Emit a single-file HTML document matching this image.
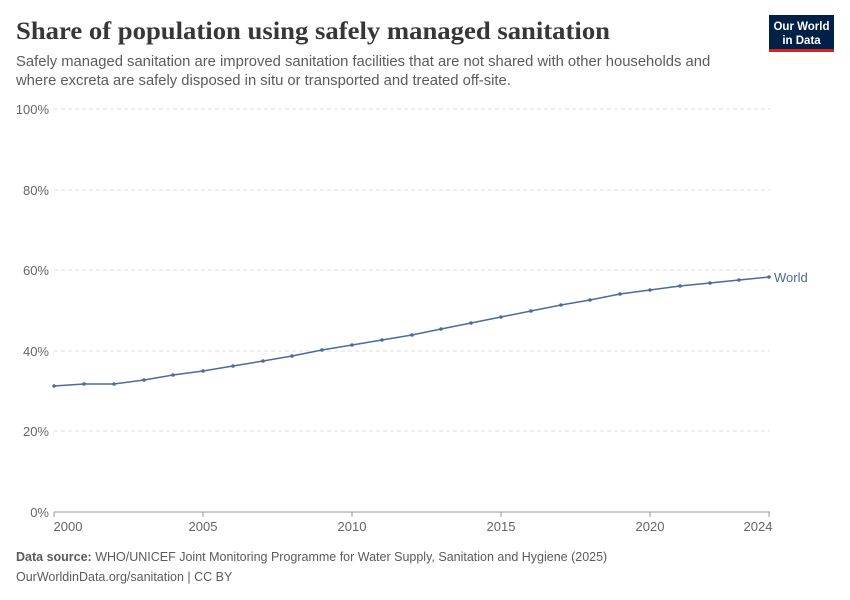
<!DOCTYPE html>
<html><head><meta charset="utf-8"><style>
body{margin:0;background:#fff;font-family:"Liberation Sans",sans-serif;}
</style></head><body>
<svg width="850" height="600" xmlns="http://www.w3.org/2000/svg" style="display:block">
<text x="16" y="39" font-family="Liberation Serif,serif" font-size="25" font-weight="bold" fill="#373737" textLength="594" lengthAdjust="spacingAndGlyphs">Share of population using safely managed sanitation</text>
<text x="16" y="66" font-size="14.8" fill="#5b5b5b">Safely managed sanitation are improved sanitation facilities that are not shared with other households and</text>
<text x="16" y="85" font-size="14.8" fill="#5b5b5b">where excreta are safely disposed in situ or transported and treated off-site.</text>
<rect x="769" y="15" width="65" height="36" fill="#002147"/>
<rect x="769" y="49" width="65" height="3" fill="#ce261e"/>
<text x="801.5" y="30" font-size="11.5" fill="#fff" text-anchor="middle" font-weight="bold">Our World</text>
<text x="801.5" y="44" font-size="11.5" fill="#fff" text-anchor="middle" font-weight="bold">in Data</text>
<g stroke="#ddd" stroke-dasharray="4,3">
<line x1="54" x2="770" y1="109" y2="109"/><line x1="54" x2="770" y1="190" y2="190"/>
<line x1="54" x2="770" y1="270" y2="270"/><line x1="54" x2="770" y1="351" y2="351"/>
<line x1="54" x2="770" y1="431" y2="431"/>
</g>
<line x1="54" x2="770" y1="512" y2="512" stroke="#999"/>
<g font-size="13" fill="#666" text-anchor="end">
<text x="49" y="114">100%</text><text x="49" y="195">80%</text><text x="49" y="275">60%</text>
<text x="49" y="356">40%</text><text x="49" y="436">20%</text><text x="49" y="517">0%</text>
</g>
<g stroke="#999"><line x1="54" x2="54" y1="512" y2="517"/><line x1="203" x2="203" y1="512" y2="517"/><line x1="352" x2="352" y1="512" y2="517"/><line x1="501" x2="501" y1="512" y2="517"/><line x1="650" x2="650" y1="512" y2="517"/><line x1="769" x2="769" y1="512" y2="517"/></g>
<g font-size="13" fill="#666" text-anchor="middle">
<text x="68" y="531">2000</text><text x="203" y="531">2005</text><text x="352" y="531">2010</text>
<text x="501" y="531">2015</text><text x="650" y="531">2020</text><text x="758" y="531">2024</text>
</g>
<polyline fill="none" stroke="#4c6a9c" stroke-width="1.5" points="54,386 84,384 114,384 144,380 173,375 203,371 233,366 263,361 292,356 322,350 352,345 382,340 412,335 441,329 471,323 501,317 531,311 561,305 590,300 620,294 650,290 680,286 710,283 739,280 769,277"/>
<g fill="#4c6a9c">
<circle cx="54" cy="386" r="1.8"/><circle cx="84" cy="384" r="1.8"/><circle cx="114" cy="384" r="1.8"/><circle cx="144" cy="380" r="1.8"/><circle cx="173" cy="375" r="1.8"/><circle cx="203" cy="371" r="1.8"/><circle cx="233" cy="366" r="1.8"/><circle cx="263" cy="361" r="1.8"/><circle cx="292" cy="356" r="1.8"/><circle cx="322" cy="350" r="1.8"/><circle cx="352" cy="345" r="1.8"/><circle cx="382" cy="340" r="1.8"/><circle cx="412" cy="335" r="1.8"/><circle cx="441" cy="329" r="1.8"/><circle cx="471" cy="323" r="1.8"/><circle cx="501" cy="317" r="1.8"/><circle cx="531" cy="311" r="1.8"/><circle cx="561" cy="305" r="1.8"/><circle cx="590" cy="300" r="1.8"/><circle cx="620" cy="294" r="1.8"/><circle cx="650" cy="290" r="1.8"/><circle cx="680" cy="286" r="1.8"/><circle cx="710" cy="283" r="1.8"/><circle cx="739" cy="280" r="1.8"/><circle cx="769" cy="277" r="1.8"/>
</g>
<text x="774" y="282" font-size="13" fill="#4c6a9c">World</text>
<text x="16" y="561" font-size="12.5" fill="#5b5b5b"><tspan font-weight="bold">Data source:</tspan> WHO/UNICEF Joint Monitoring Programme for Water Supply, Sanitation and Hygiene (2025)</text>
<text x="16" y="581" font-size="12.5" fill="#5b5b5b">OurWorldinData.org/sanitation | CC BY</text>
</svg>
</body></html>
